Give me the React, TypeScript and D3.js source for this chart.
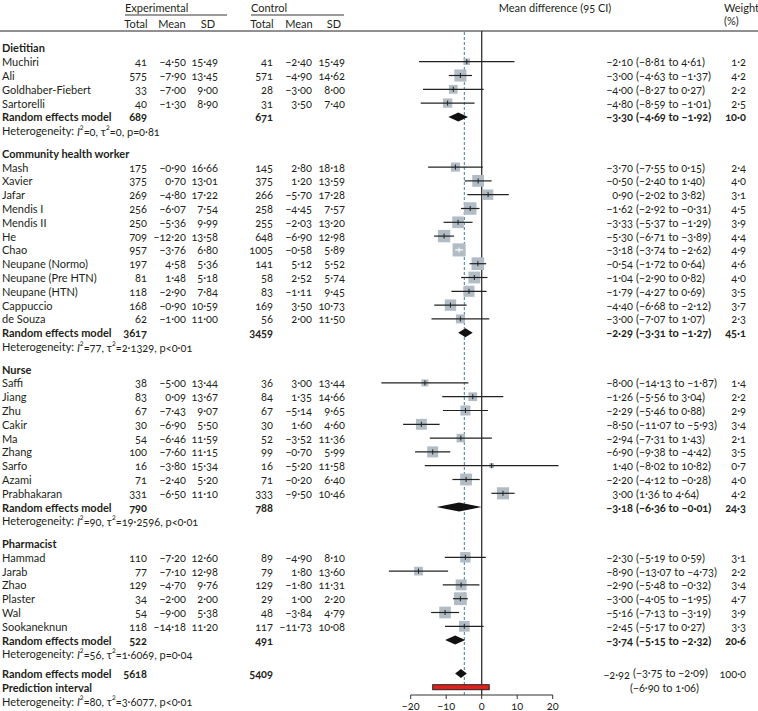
import { useEffect } from "react";
import * as d3 from "d3";

// subgroups
const groupNames = ["Dietitian", "Community health worker", "Nurse", "Pharmacist"];

// one entry per study; studyGroup points into groupNames
const studyNames = [
  "Muchiri", "Ali", "Goldhaber-Fiebert", "Sartorelli",
  "Mash", "Xavier", "Jafar", "Mendis I", "Mendis II", "He", "Chao",
  "Neupane (Normo)", "Neupane (Pre HTN)", "Neupane (HTN)", "Cappuccio", "de Souza",
  "Saffi", "Jiang", "Zhu", "Cakir", "Ma", "Zhang", "Sarfo", "Azami", "Prabhakaran",
  "Hammad", "Jarab", "Zhao", "Plaster", "Wal", "Sookaneknun",
];
const studyGroup = [
  0, 0, 0, 0,
  1, 1, 1, 1, 1, 1, 1, 1, 1, 1, 1, 1,
  2, 2, 2, 2, 2, 2, 2, 2, 2,
  3, 3, 3, 3, 3, 3,
];
const expTotal = [41, 575, 33, 40, 175, 375, 269, 256, 250, 709, 957, 197, 81, 118, 168, 62, 38, 83, 67, 30, 54, 100, 16, 71, 331, 110, 77, 129, 34, 54, 118];
const expMean = [-4.5, -7.9, -7.0, -1.3, -0.9, 0.7, -4.8, -6.07, -5.36, -12.2, -3.76, 4.58, 1.48, -2.9, -0.9, -1.0, -5.0, 0.09, -7.43, -6.9, -6.46, -7.6, -3.8, -2.4, -6.5, -7.2, -7.1, -4.7, -2.0, -9.0, -14.18];
const expSD = [15.49, 13.45, 9.0, 8.9, 16.66, 13.01, 17.22, 7.54, 9.99, 13.58, 6.8, 5.36, 5.18, 7.84, 10.59, 11.0, 13.44, 13.67, 9.07, 5.5, 11.59, 11.15, 15.34, 5.2, 11.1, 12.6, 12.98, 9.76, 2.0, 5.38, 11.2];
const ctlTotal = [41, 571, 28, 31, 145, 375, 266, 258, 255, 648, 1005, 141, 58, 83, 169, 56, 36, 84, 67, 30, 52, 99, 16, 71, 333, 89, 79, 129, 29, 48, 117];
const ctlMean = [-2.4, -4.9, -3.0, 3.5, 2.8, 1.2, -5.7, -4.45, -2.03, -6.9, -0.58, 5.12, 2.52, -1.11, 3.5, 2.0, 3.0, 1.35, -5.14, 1.6, -3.52, -0.7, -5.2, -0.2, -9.5, -4.9, 1.8, -1.8, 1.0, -3.84, -11.73];
const ctlSD = [15.49, 14.62, 8.0, 7.4, 18.18, 13.59, 17.28, 7.57, 13.2, 12.98, 5.89, 5.52, 5.74, 9.45, 10.73, 11.5, 13.44, 14.66, 9.65, 4.6, 11.36, 5.99, 11.58, 6.4, 10.46, 8.1, 13.6, 11.31, 2.2, 4.79, 10.08];
const meanDiff = [-2.1, -3.0, -4.0, -4.8, -3.7, -0.5, 0.9, -1.62, -3.33, -5.3, -3.18, -0.54, -1.04, -1.79, -4.4, -3.0, -8.0, -1.26, -2.29, -8.5, -2.94, -6.9, 1.4, -2.2, 3.0, -2.3, -8.9, -2.9, -3.0, -5.16, -2.45];
const ciLow = [-8.81, -4.63, -8.27, -8.59, -7.55, -2.4, -2.02, -2.92, -5.37, -6.71, -3.74, -1.72, -2.9, -4.27, -6.68, -7.07, -14.13, -5.56, -5.46, -11.07, -7.31, -9.38, -8.02, -4.12, 1.36, -5.19, -13.07, -5.48, -4.05, -7.13, -5.17];
const ciHigh = [4.61, -1.37, 0.27, -1.01, 0.15, 1.4, 3.82, -0.31, -1.29, -3.89, -2.62, 0.64, 0.82, 0.69, -2.12, 1.07, -1.87, 3.04, 0.88, -5.93, 1.43, -4.42, 10.82, -0.28, 4.64, 0.59, -4.73, -0.32, -1.95, -3.19, 0.27];
const weight = [1.2, 4.2, 2.2, 2.5, 2.4, 4.0, 3.1, 4.5, 3.9, 4.4, 4.9, 4.6, 4.0, 3.5, 3.7, 2.3, 1.4, 2.2, 2.9, 3.4, 2.1, 3.5, 0.7, 4.0, 4.2, 3.1, 2.2, 3.4, 4.7, 3.9, 3.3];

// random effects model per subgroup
const subExpTotal = [689, 3617, 790, 522];
const subCtlTotal = [671, 3459, 788, 491];
const subMD = [-3.3, -2.29, -3.18, -3.74];
const subLow = [-4.69, -3.31, -6.36, -5.15];
const subHigh = [-1.92, -1.27, -0.01, -2.32];
const subWeight = [10.0, 45.1, 24.3, 20.6];
const subI2 = ["0", "77", "90", "56"];
const subTau2 = ["0", "2·1329", "19·2596", "1·6069"];
const subP = ["p=0·81", "p<0·01", "p<0·01", "p=0·04"];

// overall
const overallTotals = [5618, 5409];
const overall = { md: -2.92, low: -3.75, high: -2.09, weight: 100.0 };
const prediction = [-6.9, 1.06];
const overallHet = { i2: "80", tau2: "3·6077", p: "p<0·01" };
const refLine = -2.45; // dashed line as drawn

const axisTicks = [-20, -10, 0, 10, 20];
// the plot in the figure is drawn at twice the tabulated values
const plotFactor = 2;

const INK = "#231f20";
const FONT = "Lato, 'Open Sans', sans-serif";

const fmt = (v: number, d = 2) => v.toFixed(d).replace("-", "−").replace(".", "·");

function Het({ x, y, i2, tau2, p }: { x: number; y: number; i2: string; tau2: string; p: string }) {
  return (
    <text x={x} y={y} dominantBaseline="central">
      Heterogeneity: <tspan fontStyle="italic">I</tspan>
      <tspan dy={-4} fontSize={7}>2</tspan>
      <tspan dy={4}>={i2}, τ</tspan>
      <tspan dy={-4} fontSize={7}>2</tspan>
      <tspan dy={4}>={tau2}, {p}</tspan>
    </text>
  );
}

export default function App() {
  useEffect(() => {
    document.body.style.margin = "0";
  }, []);

  const width = 758;
  const height = 711;
  const x = d3.scaleLinear().domain([-20, 20]).range([410.7, 552.7]);
  const px = (v: number) => x(v * plotFactor);

  const step = 13.8;
  const groupGap = 22.6;
  const axisY = 695;
  const topRule = 31;

  // column right edges
  const cols = { eN: 147, eM: 186, eSD: 218, cN: 273, cM: 312, cSD: 345 };
  const estEnd = 633;
  const ciStart = 636;
  const wEnd = 746;

  type Row =
    | { kind: "header"; g: number; y: number }
    | { kind: "study"; i: number; y: number }
    | { kind: "sub"; g: number; y: number }
    | { kind: "het"; g: number; y: number };
  const rows: Row[] = [];
  let y = 47.9;
  groupNames.forEach((_, g) => {
    rows.push({ kind: "header", g, y });
    y += step;
    studyNames.forEach((_, i) => {
      if (studyGroup[i] !== g) return;
      rows.push({ kind: "study", i, y });
      y += step;
    });
    rows.push({ kind: "sub", g, y });
    y += step;
    rows.push({ kind: "het", g, y });
    y += groupGap;
  });
  const overallY = y - groupGap + 19.5;
  const predY = overallY + step;
  const overallHetY = predY + step;

  const sqK = 5.9;
  const diamondH = 4.5;

  return (
    <svg width={width} height={height}
      style={{ display: "block", background: "#fff", fontVariantNumeric: "oldstyle-nums" }}
      fontFamily={FONT} fontSize={11} fill={INK}>
      {/* column headers */}
      <g>
        <text x={125} y={7} dominantBaseline="central">Experimental</text>
        <line x1={125} x2={227} y1={15} y2={15} stroke={INK} strokeWidth={0.9} />
        <text x={251} y={7} dominantBaseline="central">Control</text>
        <line x1={251} x2={344} y1={15} y2={15} stroke={INK} strokeWidth={0.9} />
        {[
          ["Total", cols.eN - 11], ["Mean", cols.eM - 14], ["SD", cols.eSD - 10],
          ["Total", cols.cN - 11], ["Mean", cols.cM - 13], ["SD", cols.cSD - 11],
        ].map(([t, cx], k) => (
          <text key={k} x={cx as number} y={23} textAnchor="middle" dominantBaseline="central">{t}</text>
        ))}
        <text x={555} y={7} textAnchor="middle" dominantBaseline="central">Mean difference (95 CI)</text>
        <text x={724} y={7} dominantBaseline="central">Weight</text>
        <text x={724} y={20} dominantBaseline="central">(%)</text>
        <line x1={0} x2={width} y1={topRule} y2={topRule} stroke={INK} strokeWidth={1} />
      </g>

      {/* reference lines */}
      <line x1={px(refLine)} x2={px(refLine)} y1={topRule + 1} y2={axisY} stroke="#3b7ca3"
        strokeWidth={1} strokeDasharray="3,2" />
      <line x1={x(0)} x2={x(0)} y1={topRule} y2={axisY} stroke="#333" strokeWidth={1.3} />

      {rows.map((r, k) => {
        if (r.kind === "header") {
          return (
            <text key={k} x={2} y={r.y} fontWeight="bold" dominantBaseline="central">{groupNames[r.g]}</text>
          );
        }
        if (r.kind === "het") {
          return <Het key={k} x={2} y={r.y} i2={subI2[r.g]} tau2={subTau2[r.g]} p={subP[r.g]} />;
        }
        if (r.kind === "sub") {
          const g = r.g;
          const d = `M${px(subLow[g])},${r.y} L${px(subMD[g])},${r.y - diamondH} L${px(subHigh[g])},${r.y} L${px(subMD[g])},${r.y + diamondH} Z`;
          return (
            <g key={k} fontWeight="bold" dominantBaseline="central">
              <text x={2} y={r.y}>Random effects model</text>
              <text x={cols.eN} y={r.y} textAnchor="end">{subExpTotal[g]}</text>
              <text x={cols.cN} y={r.y} textAnchor="end">{subCtlTotal[g]}</text>
              <path d={d} fill="#111" />
              <text x={estEnd} y={r.y} textAnchor="end">{fmt(subMD[g])}</text>
              <text x={ciStart} y={r.y}>({fmt(subLow[g])} to {fmt(subHigh[g])})</text>
              <text x={wEnd} y={r.y} textAnchor="end">{fmt(subWeight[g], 1)}</text>
            </g>
          );
        }
        const i = r.i;
        const side = sqK * Math.sqrt(weight[i]);
        const x0 = px(ciLow[i]);
        const x1 = px(ciHigh[i]);
        const xm = px(meanDiff[i]);
        const inside = x1 - x0 < side;
        const lineCol = inside ? "#fff" : "#222";
        return (
          <g key={k} dominantBaseline="central">
            <text x={2} y={r.y}>{studyNames[i]}</text>
            <text x={cols.eN} y={r.y} textAnchor="end">{expTotal[i]}</text>
            <text x={cols.eM} y={r.y} textAnchor="end">{fmt(expMean[i])}</text>
            <text x={cols.eSD} y={r.y} textAnchor="end">{fmt(expSD[i])}</text>
            <text x={cols.cN} y={r.y} textAnchor="end">{ctlTotal[i]}</text>
            <text x={cols.cM} y={r.y} textAnchor="end">{fmt(ctlMean[i])}</text>
            <text x={cols.cSD} y={r.y} textAnchor="end">{fmt(ctlSD[i])}</text>
            <rect x={xm - side / 2} y={r.y - side / 2} width={side} height={side} fill="#b2bcc5" />
            <line x1={x0} x2={x1} y1={r.y} y2={r.y} stroke={lineCol} strokeWidth={1.2} />
            <line x1={xm} x2={xm} y1={r.y - 2.5} y2={r.y + 2.5} stroke={lineCol} strokeWidth={1} />
            <text x={estEnd} y={r.y} textAnchor="end">{fmt(meanDiff[i])}</text>
            <text x={ciStart} y={r.y}>({fmt(ciLow[i])} to {fmt(ciHigh[i])})</text>
            <text x={wEnd} y={r.y} textAnchor="end">{fmt(weight[i], 1)}</text>
          </g>
        );
      })}

      {/* overall */}
      <g dominantBaseline="central">
        <text x={2} y={overallY} fontWeight="bold">Random effects model</text>
        <text x={cols.eN} y={overallY} fontWeight="bold" textAnchor="end">{overallTotals[0]}</text>
        <text x={cols.cN} y={overallY} fontWeight="bold" textAnchor="end">{overallTotals[1]}</text>
        <path
          d={`M${px(overall.low)},${overallY} L${px(overall.md)},${overallY - diamondH} L${px(overall.high)},${overallY} L${px(overall.md)},${overallY + diamondH} Z`}
          fill="#111"
        />
        <text x={estEnd - 3} y={overallY + 1} textAnchor="end">{fmt(overall.md)}</text>
        <text x={ciStart - 3} y={overallY - 1}>({fmt(overall.low)} to {fmt(overall.high)})</text>
        <text x={wEnd} y={overallY} textAnchor="end">{fmt(overall.weight, 1)}</text>

        <text x={2} y={predY} fontWeight="bold">Prediction interval</text>
        <rect x={px(prediction[0])} y={predY - 2.5} width={px(prediction[1]) - px(prediction[0])} height={5}
          fill="#e3211c" stroke="#222" strokeWidth={1} />
        <text x={ciStart - 6} y={predY}>({fmt(prediction[0])} to {fmt(prediction[1])})</text>

        <Het x={2} y={overallHetY} i2={overallHet.i2} tau2={overallHet.tau2} p={overallHet.p} />
      </g>

      {/* axis */}
      <g>
        <line x1={x(axisTicks[0])} x2={x(axisTicks[axisTicks.length - 1])} y1={axisY} y2={axisY}
          stroke="#333" strokeWidth={1} />
        {axisTicks.map((t) => (
          <g key={t}>
            <line x1={x(t)} x2={x(t)} y1={axisY} y2={axisY + 4} stroke="#333" strokeWidth={1} />
            <text x={x(t)} y={axisY + 10} textAnchor="middle" dominantBaseline="central">{fmt(t, 0)}</text>
          </g>
        ))}
      </g>
    </svg>
  );
}
